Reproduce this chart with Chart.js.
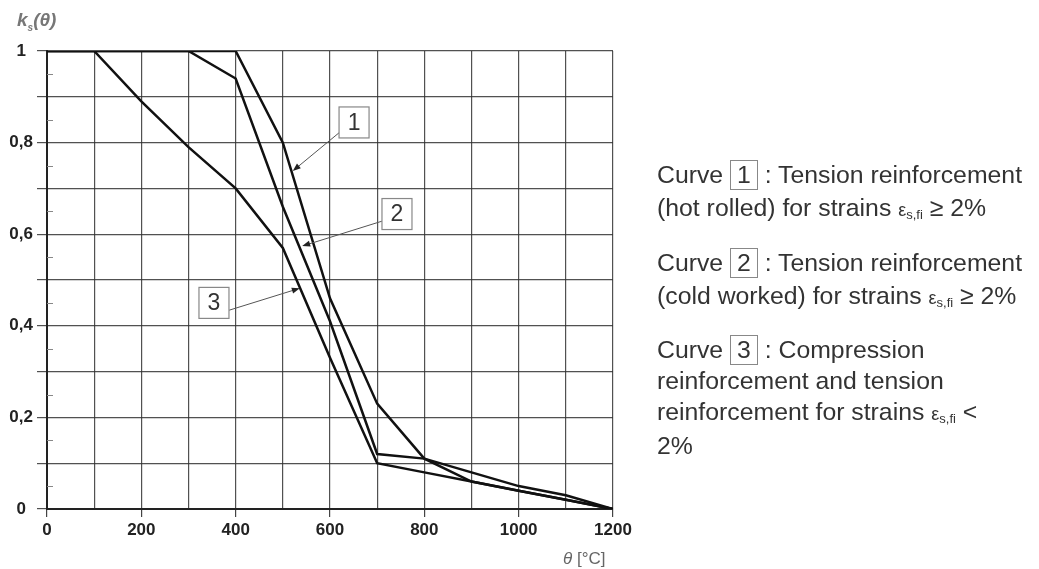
<!DOCTYPE html>
<html>
<head>
<meta charset="utf-8">
<script src="https://cdn.jsdelivr.net/npm/chart.js@4.4.1/dist/chart.umd.min.js"></script>
<style>
  body { margin: 0; background: #fff; font-family: "Liberation Sans", Arial, sans-serif; }
  #wrap { position: relative; width: 1039px; height: 569px; overflow: hidden; }
  #chart { position: absolute; left: 0; top: 0; }
  .ytitle { position: absolute; left: 17px; top: 9px; font: italic bold 19px "Liberation Sans", Arial, sans-serif; color: #777; }
  .ytitle sub { font-size: 10px; line-height: 0; }
  .xtitle { position: absolute; left: 563px; top: 549px; font: 17px "Liberation Sans", Arial, sans-serif; color: #666; }
  .note { position: absolute; left: 657px; font-size: 24.8px; line-height: 33px; color: #333; white-space: nowrap; }
  .note .box { display: inline-block; border: 1px solid #888; padding: 0 6px; line-height: 28px; }
  .note .eps { font-size: 18px; }
  .note sub { font-size: 13px; line-height: 0; vertical-align: -0.2em; }
</style>
</head>
<body>
<div id="wrap">
  <canvas id="chart" width="1039" height="569"></canvas>
  <div class="ytitle">k<sub>s</sub>(θ)</div>
  <div class="xtitle"><i>θ</i> [°C]</div>
  <div class="note" style="top:158px">Curve <span class="box">1</span> : Tension reinforcement<br>(hot rolled) for strains <span class="eps">ε</span><sub>s,fi</sub> ≥ 2%</div>
  <div class="note" style="top:246px">Curve <span class="box">2</span> : Tension reinforcement<br>(cold worked) for strains <span class="eps">ε</span><sub>s,fi</sub> ≥ 2%</div>
  <div class="note" style="top:334px; line-height:31px">Curve <span class="box">3</span> : Compression<br>reinforcement and tension<br>reinforcement for strains <span class="eps">ε</span><sub>s,fi</sub> &lt;<br>2%</div>
</div>
<script>
// temperatures (°C) and reduction factors
const temps = [0, 100, 200, 300, 400, 500, 600, 700, 800, 900, 1000, 1100, 1200];
const curve1 = [1, 1, 1, 1, 1, 0.80, 0.46, 0.23, 0.11, 0.06, 0.04, 0.02, 0];
const curve2 = [1, 1, 1, 1, 0.94, 0.66, 0.41, 0.12, 0.11, 0.08, 0.05, 0.03, 0];
const curve3 = [1, 1, 0.89, 0.79, 0.70, 0.57, 0.33, 0.10, 0.08, 0.06, 0.04, 0.02, 0];
const minorTicks = [0.05, 0.15, 0.25, 0.35, 0.45, 0.55, 0.65, 0.75, 0.85, 0.95];

// numbered boxes with arrows pointing at the curves (data coords)
const callouts = [
    { text: '1', box: [651, 0.844], from: [621, 0.823], to: [521, 0.738] },
    { text: '2', box: [742, 0.644], from: [712, 0.629], to: [541, 0.574] },
    { text: '3', box: [354, 0.450], from: [386, 0.434], to: [536, 0.482] }
];

const toPoints = vals => vals.map((v, i) => ({ x: temps[i], y: v }));

const decor = {
    id: 'decor',
    afterDatasetsDraw(chart) {
        const { ctx, scales: { x, y } } = chart;
        ctx.save();

        // small ticks on the inside of the y axis
        ctx.strokeStyle = '#888';
        ctx.lineWidth = 1;
        minorTicks.forEach(v => {
            const py = Math.round(y.getPixelForValue(v)) + 0.5;
            ctx.beginPath();
            ctx.moveTo(x.left, py);
            ctx.lineTo(x.left + 6, py);
            ctx.stroke();
        });

        callouts.forEach(c => {
            const fx = x.getPixelForValue(c.from[0]), fy = y.getPixelForValue(c.from[1]);
            const tx = x.getPixelForValue(c.to[0]), ty = y.getPixelForValue(c.to[1]);
            const ang = Math.atan2(ty - fy, tx - fx);

            ctx.strokeStyle = '#555';
            ctx.lineWidth = 1;
            ctx.beginPath();
            ctx.moveTo(fx, fy);
            ctx.lineTo(tx - 6 * Math.cos(ang), ty - 6 * Math.sin(ang));
            ctx.stroke();

            // arrow head
            ctx.fillStyle = '#222';
            ctx.beginPath();
            ctx.moveTo(tx, ty);
            ctx.lineTo(tx - 8 * Math.cos(ang) + 3 * Math.sin(ang), ty - 8 * Math.sin(ang) - 3 * Math.cos(ang));
            ctx.lineTo(tx - 8 * Math.cos(ang) - 3 * Math.sin(ang), ty - 8 * Math.sin(ang) + 3 * Math.cos(ang));
            ctx.closePath();
            ctx.fill();

            // box
            const bx = x.getPixelForValue(c.box[0]), by = y.getPixelForValue(c.box[1]);
            ctx.fillStyle = '#fff';
            ctx.fillRect(bx - 15, by - 15.5, 30, 31);
            ctx.strokeStyle = '#888';
            ctx.lineWidth = 1.2;
            ctx.strokeRect(bx - 15, by - 15.5, 30, 31);
            ctx.fillStyle = '#333';
            ctx.font = '23px "Liberation Sans", Arial, sans-serif';
            ctx.textAlign = 'center';
            ctx.textBaseline = 'middle';
            ctx.fillText(c.text, bx, by + 1);
        });

        ctx.restore();
    }
};

const lineStyle = { borderColor: '#111', borderWidth: 2.5, pointRadius: 0, tension: 0, fill: false };

new Chart(document.getElementById('chart'), {
    type: 'line',
    data: {
        datasets: [
            { label: 'Curve 1', data: toPoints(curve1), ...lineStyle },
            { label: 'Curve 2', data: toPoints(curve2), ...lineStyle },
            { label: 'Curve 3', data: toPoints(curve3), ...lineStyle }
        ]
    },
    options: {
        responsive: false,
        animation: false,
        layout: { padding: { left: 0, top: 51, right: 426, bottom: 20 } },
        plugins: { legend: { display: false }, tooltip: { enabled: false } },
        scales: {
            x: {
                type: 'linear',
                min: 0,
                max: 1200,
                afterFit: scale => { scale.height = 40; },
                border: { color: '#222', width: 2 },
                grid: {
                    color: 'rgba(50,50,50,0.85)',
                    lineWidth: 1.2,
                    tickLength: 8,
                    tickColor: ctx => (ctx.tick && ctx.tick.value % 200 === 0) ? '#444' : 'rgba(0,0,0,0)'
                },
                ticks: {
                    stepSize: 100,
                    autoSkip: false,
                    maxRotation: 0,
                    padding: 3,
                    color: '#222',
                    font: { family: '"Liberation Sans", Arial, sans-serif', size: 17, weight: 'bold' },
                    callback: v => (v % 200 === 0 ? String(v) : '')
                }
            },
            y: {
                min: 0,
                max: 1,
                afterFit: scale => { scale.width = 47; },
                border: { color: '#222', width: 2 },
                grid: {
                    color: 'rgba(50,50,50,0.85)',
                    lineWidth: 1.2,
                    tickLength: 10
                },
                ticks: {
                    stepSize: 0.1,
                    autoSkip: false,
                    padding: 4,
                    crossAlign: 'center',
                    color: '#222',
                    font: { family: '"Liberation Sans", Arial, sans-serif', size: 17, weight: 'bold' },
                    callback: v => {
                        const t = Math.round(v * 10);
                        if (t % 2 !== 0) return '';
                        if (t === 0) return '0';
                        if (t === 10) return '1';
                        return (t / 10).toFixed(1).replace('.', ',');
                    }
                }
            }
        }
    },
    plugins: [decor]
});
</script>
</body>
</html>
